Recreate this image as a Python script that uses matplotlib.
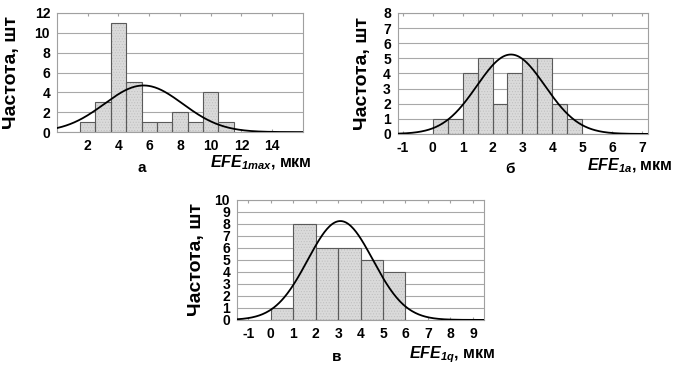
import numpy as np
import matplotlib
matplotlib.use('Agg')
import matplotlib.pyplot as plt

plt.rcParams['font.family'] = ['Liberation Sans', 'DejaVu Sans']
plt.rcParams['mathtext.fontset'] = 'custom'
plt.rcParams['mathtext.it'] = 'Liberation Sans:italic:bold'
plt.rcParams['mathtext.rm'] = 'Liberation Sans:italic:bold'
plt.rcParams['mathtext.bf'] = 'Liberation Sans:bold'
plt.rcParams['axes.unicode_minus'] = False
plt.rcParams['hatch.linewidth'] = 0.4

# а) EFE1max, bin width 1
a_centers = [2, 3, 4, 5, 6, 7, 8, 9, 10, 11]
a_counts = [1, 3, 11, 5, 1, 1, 2, 1, 4, 1]
# б) EFE1a, bin width 0.5
b_centers = [0.25, 0.75, 1.25, 1.75, 2.25, 2.75, 3.25, 3.75, 4.25, 4.75]
b_counts = [1, 1, 4, 5, 2, 4, 5, 5, 2, 1]
# в) EFE1q, bin width 1
c_centers = [0.5, 1.5, 2.5, 3.5, 4.5, 5.5]
c_counts = [1, 8, 6, 6, 5, 4]

panels = [
    dict(c=a_centers, n=a_counts, w=1.0, xlim=(0, 16), xt=[2, 4, 6, 8, 10, 12, 14],
         ylim=12, yt=range(0, 13, 2), pos=[0.084, 0.642, 0.362, 0.323],
         lab=r'$EFE_{1max}$, мкм', labxy=(1.035, -0.26), let='а', letxy=(0.346, -0.30),
         ylx=-0.15),
    dict(c=b_centers, n=b_counts, w=0.5, xlim=(-1.17, 7.2), xt=range(-1, 8),
         ylim=8, yt=range(0, 9), pos=[0.586, 0.637, 0.368, 0.328],
         lab=r'$EFE_{1a}$, мкм', labxy=(1.1, -0.26), let='б', letxy=(0.448, -0.29),
         ylx=-0.108),
    dict(c=c_centers, n=c_counts, w=1.0, xlim=(-1.5, 9.5), xt=range(-1, 10),
         ylim=10, yt=range(0, 11), pos=[0.349, 0.133, 0.364, 0.325],
         lab=r'$EFE_{1q}$, мкм', labxy=(1.045, -0.29), let='в', letxy=(0.405, -0.31),
         ylx=-0.13),
]

fig = plt.figure(figsize=(6.79, 3.69), dpi=100)

for p in panels:
    ax = fig.add_axes(p['pos'])
    c = np.array(p['c'], dtype=float)
    n = np.array(p['n'], dtype=float)
    ax.bar(c, n, width=p['w'], color='#dadada', hatch='......', edgecolor='#bdbdbd',
           linewidth=0, zorder=2)
    ax.bar(c, n, width=p['w'], fill=False, edgecolor='#5a5a5a', linewidth=0.8, zorder=3)

    # fitted normal curve
    tot = n.sum()
    mu = (c * n).sum() / tot
    sd = np.sqrt(((c - mu) ** 2 * n).sum() / tot)
    xs = np.linspace(p['xlim'][0], p['xlim'][1], 300)
    ys = tot * p['w'] / (sd * np.sqrt(2 * np.pi)) * np.exp(-(xs - mu) ** 2 / (2 * sd ** 2))
    ax.plot(xs, ys, color='black', linewidth=1.3, zorder=4)

    ax.set_xlim(*p['xlim'])
    ax.set_ylim(0, p['ylim'])
    ax.set_xticks(list(p['xt']))
    ax.set_yticks(list(p['yt']))
    ax.yaxis.grid(True, color='#a8a8a8', linewidth=0.8, zorder=0)
    ax.set_axisbelow(True)
    for s in ax.spines.values():
        s.set_color('#a0a0a0')
        s.set_linewidth(0.8)
    ax.tick_params(axis='both', length=0, labelsize=10, pad=5)
    ax.tick_params(axis='x', top=True, direction='in', length=2.5, color='#a0a0a0')
    for t in ax.get_xticklabels() + ax.get_yticklabels():
        t.set_fontweight('bold')
    ax.set_ylabel('Частота, шт', fontsize=14, fontweight='bold')
    ax.yaxis.set_label_coords(p['ylx'], 0.5)
    ax.text(p['labxy'][0], p['labxy'][1], p['lab'], transform=ax.transAxes,
            ha='right', va='center', fontsize=11.5, fontweight='bold')
    ax.text(p['letxy'][0], p['letxy'][1], p['let'], transform=ax.transAxes,
            ha='center', va='center', fontsize=11, fontweight='bold')

fig.savefig('out.png', dpi=100)
